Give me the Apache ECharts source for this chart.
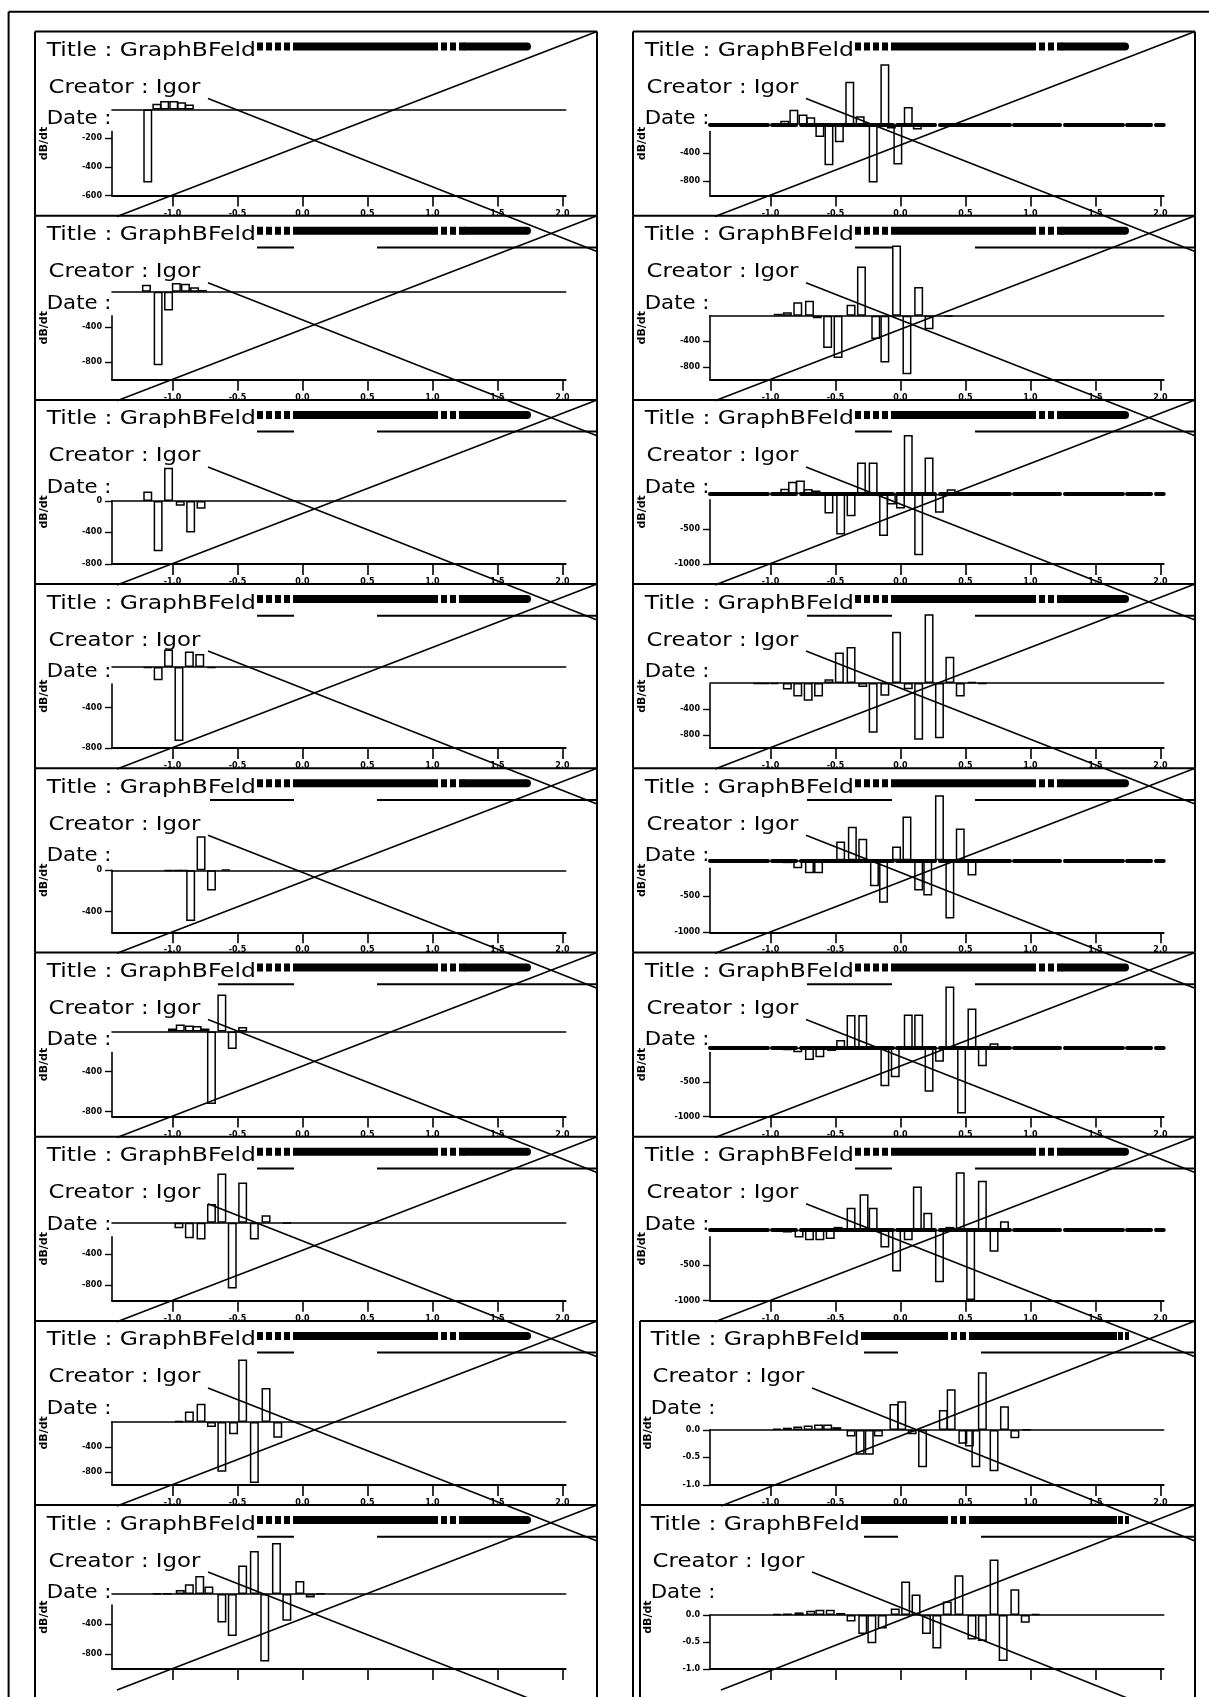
<!DOCTYPE html>
<html>
<head>
<meta charset="utf-8">
<script src="https://cdn.jsdelivr.net/npm/echarts@6/dist/echarts.min.js"></script>
<style>
html, body { margin: 0; padding: 0; background: #fff; }
#c { width: 1209px; height: 1697px; }
</style>
</head>
<body>
<div id="c"></div>
<script>
// ---- data -------------------------------------------------------------
const titleText = 'Title : GraphBFeld';
const creatorText = 'Creator : Igor';
const dateText = 'Date :';
const yTitleText = 'dB/dt';

// bottom axis ticks and range (same for every panel)
const xTicks = [-1.0, -0.5, 0.0, 0.5, 1.0, 1.5, 2.0];
const xRange = [-1.465, 2.025];

// left column, rows 1-9 : [x, value]
const barsL1 = [[-1.19,-510],[-1.12,40],[-1.06,60],[-0.99,60],[-0.93,50],[-0.87,35]];
const barsL2 = [[-1.20,80],[-1.11,-835],[-1.03,-215],[-0.97,100],[-0.90,90],[-0.83,50],[-0.77,20]];
const barsL3 = [[-1.19,120],[-1.11,-640],[-1.03,420],[-0.94,-60],[-0.86,-400],[-0.78,-100]];
const barsL4 = [[-1.19,-8],[-1.11,-130],[-1.03,175],[-0.95,-730],[-0.87,155],[-0.79,130],[-0.70,-8]];
const barsL5 = [[-1.03,-5],[-0.96,-5],[-0.91,-5],[-0.86,-490],[-0.78,330],[-0.70,-195],[-0.59,8]];
const barsL6 = [[-1.00,30],[-0.94,70],[-0.87,60],[-0.81,55],[-0.75,30],[-0.70,-725],[-0.62,370],[-0.54,-175],[-0.46,44]];
const barsL7 = [[-0.95,-70],[-0.87,-200],[-0.78,-215],[-0.70,240],[-0.62,630],[-0.54,-845],[-0.46,515],[-0.37,-215],[-0.28,95],[-0.12,-5]];
const barsL8 = [[-0.95,10],[-0.87,165],[-0.78,290],[-0.70,-80],[-0.62,-790],[-0.53,-195],[-0.46,990],[-0.37,-970],[-0.28,540],[-0.19,-250]];
const barsL9 = [[-1.12,8],[-1.04,8],[-0.94,55],[-0.87,130],[-0.79,240],[-0.72,100],[-0.62,-380],[-0.54,-560],[-0.46,380],[-0.37,575],[-0.29,-900],[-0.20,680],[-0.12,-355],[-0.02,175],[0.06,-45],[0.14,10]];

// right column, rows 1-9 : [x, value]
const barsR1 = [[-0.89,60],[-0.82,215],[-0.75,150],[-0.69,110],[-0.62,-170],[-0.55,-570],[-0.47,-245],[-0.39,615],[-0.31,125],[-0.21,-815],[-0.12,860],[-0.07,-50],[-0.02,-560],[0.06,255],[0.13,-65]];
const barsR2 = [[-0.94,30],[-0.87,55],[-0.79,210],[-0.70,235],[-0.64,-40],[-0.56,-505],[-0.48,-660],[-0.38,170],[-0.30,770],[-0.19,-365],[-0.12,-730],[-0.03,1095],[0.05,-915],[0.14,450],[0.22,-213],[0.37,-12]];
const barsR3 = [[-0.89,75],[-0.83,175],[-0.77,190],[-0.71,70],[-0.65,50],[-0.55,-280],[-0.46,-580],[-0.38,-320],[-0.30,450],[-0.21,450],[-0.13,-600],[-0.07,-150],[0.00,-210],[0.06,840],[0.14,-875],[0.22,520],[0.30,-270],[0.39,65]];
const barsR4 = [[-1.10,-15],[-1.04,-15],[-0.97,-15],[-0.87,-97],[-0.79,-205],[-0.71,-270],[-0.63,-205],[-0.55,60],[-0.47,470],[-0.38,555],[-0.29,-60],[-0.21,-765],[-0.12,-195],[-0.03,790],[0.06,-95],[0.14,-870],[0.22,1060],[0.30,-850],[0.38,405],[0.46,-205],[0.55,15],[0.63,-10]];
const barsR5 = [[-0.87,-40],[-0.79,-110],[-0.70,-180],[-0.63,-180],[-0.46,260],[-0.37,465],[-0.29,300],[-0.20,-360],[-0.13,-590],[-0.03,190],[0.05,610],[0.14,-420],[0.21,-490],[0.30,905],[0.38,-810],[0.46,440],[0.55,-210]];
const barsR6 = [[-0.87,-40],[-0.79,-70],[-0.70,-180],[-0.62,-140],[-0.53,-50],[-0.46,110],[-0.38,470],[-0.29,470],[-0.12,-560],[-0.04,-430],[0.06,480],[0.14,480],[0.22,-640],[0.30,-205],[0.38,885],[0.47,-955],[0.55,565],[0.63,-270],[0.72,60]];
const barsR7 = [[-0.87,-40],[-0.78,-110],[-0.70,-150],[-0.62,-150],[-0.54,-130],[-0.48,40],[-0.38,310],[-0.28,500],[-0.21,310],[-0.12,-250],[-0.03,-590],[0.06,-150],[0.13,610],[0.21,240],[0.30,-740],[0.38,40],[0.46,810],[0.54,-990],[0.63,690],[0.72,-310],[0.80,120]];
const barsR8 = [[-0.95,0.02],[-0.87,0.04],[-0.79,0.06],[-0.71,0.08],[-0.63,0.10],[-0.56,0.10],[-0.49,0.05],[-0.38,-0.12],[-0.31,-0.45],[-0.24,-0.45],[-0.17,-0.12],[-0.05,0.47],[0.01,0.52],[0.09,-0.08],[0.17,-0.68],[0.33,0.36],[0.39,0.74],[0.48,-0.25],[0.53,-0.30],[0.58,-0.68],[0.63,1.05],[0.72,-0.75],[0.80,0.43],[0.88,-0.15],[0.97,0.01]];
const barsR9 = [[-0.95,0.02],[-0.87,0.03],[-0.78,0.05],[-0.69,0.08],[-0.62,0.10],[-0.54,0.10],[-0.46,0.04],[-0.38,-0.12],[-0.29,-0.35],[-0.22,-0.52],[-0.14,-0.25],[-0.04,0.12],[0.04,0.62],[0.12,0.38],[0.20,-0.35],[0.28,-0.62],[0.36,0.25],[0.45,0.74],[0.55,-0.45],[0.63,-0.48],[0.72,1.03],[0.79,-0.85],[0.88,0.48],[0.96,-0.14],[1.04,0.02]];

// value axis: lower end and labelled ticks per panel
const yMinLeft = [-600, -1000, -800, -800, -600, -850, -1000, -1000, -1000];
const yMinRight = [-1000, -1000, -1000, -1000, -1000, -1000, -1000, -1, -1];
const yTicksLeft = [[-200,-400,-600],[-400,-800],[0,-400,-800],[-400,-800],[0,-400],[-400,-800],[-400,-800],[-400,-800],[-400,-800]];
const yTicksRight = [[-400,-800],[-400,-800],[-500,-1000],[-400,-800],[-500,-1000],[-500,-1000],[-500,-1000],[0,-0.5,-1],[0,-0.5,-1]];

// ---- layout -----------------------------------------------------------
const ROW_TOP = 31.5, ROW_PITCH = 184.2, COL_SHIFT = 598;
const PLOT_LEFT = 112, PLOT_WIDTH = 453.7, AXIS_BOTTOM = 164, AXIS_START = 100;
const FRAME_L = 35, FRAME_R = 597;
const zeroOffLeft = [78, 76, 101, 83, 102, 79, 86, 101, 89];
const zeroOffRight = [93.5, 100, 94, 99, 92, 95, 93, 109, 110];
const underlineStartLeft = [0, 257, 257, 257, 210, 218, 257, 257, 257];
const underlineStartRight = [0, 257, 257, 209, 209, 209, 257, 260, 260];
const thickZeroRight = [true, false, true, false, true, true, true, false, false];

const leftBars = [barsL1, barsL2, barsL3, barsL4, barsL5, barsL6, barsL7, barsL8, barsL9];
const rightBars = [barsR1, barsR2, barsR3, barsR4, barsR5, barsR6, barsR7, barsR8, barsR9];

const panels = [];
for (let r = 0; r < 9; r++) {
  panels.push({ col: 0, row: r, bars: leftBars[r], yMin: yMinLeft[r], yTicks: yTicksLeft[r],
    zero: zeroOffLeft[r], thick: false, ul: underlineStartLeft[r], shift: 0, alt: false });
}
for (let r = 0; r < 9; r++) {
  panels.push({ col: 1, row: r, bars: rightBars[r], yMin: yMinRight[r], yTicks: yTicksRight[r],
    zero: zeroOffRight[r], thick: thickZeroRight[r], ul: underlineStartRight[r],
    shift: r >= 7 ? 6 : 0, alt: r >= 7 });
}

const INK = '#000';
const FONT = '"DejaVu Sans", sans-serif';
const graphics = [];

function line(x1, y1, x2, y2, w, dash, cap) {
  graphics.push({
    type: 'line', silent: true, z: 10,
    shape: { x1: x1, y1: y1, x2: x2, y2: y2 },
    style: { stroke: INK, lineWidth: w, lineDash: dash || null, lineCap: cap || 'butt' }
  });
}
function text(str, x, y, size, opts) {
  opts = opts || {};
  graphics.push({
    type: 'text', silent: true, z: 11,
    x: x, y: y, rotation: opts.rotation || 0, scaleX: opts.scaleX || 1,
    style: {
      text: str, fill: INK,
      font: (opts.weight || 'normal') + ' ' + size + 'px ' + FONT,
      align: opts.align || 'left', verticalAlign: 'middle',
      textAlign: opts.align || 'left', textVerticalAlign: 'middle'
    }
  });
}

// outer border
line(8.6, 11.7, 1209, 11.7, 2);
line(8.6, 11.7, 8.6, 1697, 2);

const grids = [], xAxes = [], yAxes = [], series = [];

panels.forEach(function (p, i) {
  const colX = p.col * COL_SHIFT;
  const T = ROW_TOP + p.row * ROW_PITCH;
  const sh = p.shift;
  const bottom = p.row === 8 ? 1697 : T + ROW_PITCH;

  // frame
  const fl = colX + FRAME_L + (p.alt ? 7 : 0);
  const fr = colX + FRAME_R;
  line(fl, T, fr, T, 2);
  line(fl, T, fl, bottom, 2);
  line(fr, T, fr, bottom, 2);
  if (p.alt && p.row === 7) line(colX + FRAME_L, T, colX + FRAME_L, 1697, 2);

  // header texts
  text(titleText, colX + 46.7 + sh, T + 19.5, 19, { scaleX: 1.235 });
  text(creatorText, colX + 48.6 + sh, T + 56.5, 19, { scaleX: 1.2 });
  text(dateText, colX + 46.7 + sh, T + 88, 19, { scaleX: 1.12 });
  text(yTitleText, colX + 44 + sh, T + 112, 11, { rotation: Math.PI / 2, weight: 'bold', align: 'center' });

  // filled strip after the title
  const by = T + 15;
  if (!p.alt) {
    line(colX + 257, by, colX + 294, by, 8, [6, 3]);
    line(colX + 294, by, colX + 432, by, 8);
    line(colX + 432, by, colX + 465, by, 8, [6, 3]);
    line(colX + 465, by, colX + 527, by, 8, null, 'round');
  } else {
    line(colX + 263, by, colX + 344, by, 8);
    line(colX + 344, by, colX + 377, by, 8, [6, 3]);
    line(colX + 377, by, colX + 519, by, 8);
    line(colX + 520, by, colX + 531, by, 8, [5, 2]);
  }
  // underline pieces
  if (p.row > 0) {
    const uy = T + 31.7;
    line(colX + p.ul + sh, uy, colX + 294 + sh, uy, 2);
    line(colX + 377 + sh, uy, colX + FRAME_R, uy, 2);
  }

  // crossing diagonals
  line(colX + FRAME_R, T, colX + 117 + sh, T + 185, 1.6);
  line(colX + 208 + sh, T + 67, colX + FRAME_R, T + 220, 1.6);

  // grid A: bars, zero line and bottom axis
  grids.push({
    left: colX + PLOT_LEFT, top: T + p.zero,
    width: PLOT_WIDTH, height: AXIS_BOTTOM - p.zero,
    containLabel: false, outerBoundsMode: 'none'
  });
  // grid B: the drawn value axis, which begins a little below the zero line
  const aStart = Math.max(AXIS_START, p.zero);
  const yTop = p.yMin * (aStart - p.zero) / (AXIS_BOTTOM - p.zero);
  grids.push({
    left: colX + PLOT_LEFT, top: T + aStart,
    width: PLOT_WIDTH, height: AXIS_BOTTOM - aStart,
    containLabel: false, outerBoundsMode: 'none'
  });

  xAxes.push({
    gridIndex: 2 * i, type: 'value', min: xRange[0], max: xRange[1], position: 'bottom',
    axisLine: { show: true, onZero: true, lineStyle: p.thick
      ? { color: INK, width: 4, type: [58, 4, 24, 5, 92, 4, 38, 5, 70, 4, 46, 5] }
      : { color: INK, width: 1.6 } },
    axisTick: { show: false }, axisLabel: { show: false }, splitLine: { show: false }
  });
  xAxes.push({
    gridIndex: 2 * i, type: 'value', min: xRange[0], max: xRange[1], position: 'bottom',
    axisLine: { show: true, onZero: false, lineStyle: { color: INK, width: 1.8 } },
    axisTick: { show: true, length: 11, customValues: xTicks, lineStyle: { color: INK, width: 1.6 } },
    axisLabel: { show: p.row < 8, customValues: xTicks, margin: 14, fontSize: 8, fontWeight: 'bold',
      fontFamily: FONT, color: INK, formatter: function (v) { return v.toFixed(1); } },
    splitLine: { show: false }
  });
  xAxes.push({
    gridIndex: 2 * i + 1, type: 'value', min: xRange[0], max: xRange[1], show: false
  });

  yAxes.push({
    gridIndex: 2 * i, type: 'value', min: p.yMin, max: 0, show: false,
    axisLine: { onZero: false }, splitLine: { show: false }
  });
  const dec = p.yMin > -10 ? 1 : 0;
  yAxes.push({
    gridIndex: 2 * i + 1, type: 'value', min: p.yMin, max: yTop,
    axisLine: { show: true, onZero: false, lineStyle: { color: INK, width: 1.6 } },
    axisTick: { show: true, length: 7, customValues: p.yTicks, lineStyle: { color: INK, width: 1.4 } },
    axisLabel: { show: true, customValues: p.yTicks, margin: 10, fontSize: 8, fontWeight: 'bold',
      fontFamily: FONT, color: INK, formatter: function (v) { return v.toFixed(dec); } },
    splitLine: { show: false }
  });

  series.push({
    type: 'bar', xAxisIndex: 3 * i, yAxisIndex: 2 * i, data: p.bars,
    barWidth: 9, clip: false, silent: true,
    itemStyle: { color: 'rgba(0,0,0,0)', borderColor: INK, borderWidth: 1.5 }
  });
});

const chart = echarts.init(document.getElementById('c'), null, { renderer: 'canvas', width: 1209, height: 1697 });
chart.setOption({
  animation: false,
  backgroundColor: '#fff',
  grid: grids,
  xAxis: xAxes,
  yAxis: yAxes,
  series: series,
  graphic: { elements: graphics }
});
</script>
</body>
</html>
